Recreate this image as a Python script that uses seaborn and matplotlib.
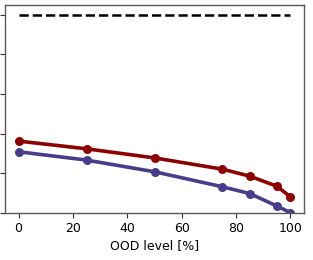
import matplotlib
matplotlib.use("Agg")
import matplotlib.pyplot as plt
import seaborn as sns
import pandas as pd

# data
ood_level = [0, 25, 50, 75, 85, 95, 100]
red_vals = [0.362, 0.323, 0.277, 0.220, 0.185, 0.134, 0.080]
blue_vals = [0.308, 0.266, 0.207, 0.131, 0.097, 0.034, 0.0]
ref_x = [0, 100]
ref_y = [1.0, 1.0]

df = pd.DataFrame({"ood": ood_level, "red": red_vals, "blue": blue_vals})

sns.set_style("ticks")
fig = plt.figure(figsize=(3.13, 2.60), dpi=100)
ax = fig.add_axes([5 / 313, 1 - 212.7 / 260, 299 / 313, 207.7 / 260])

ax.plot(ref_x, ref_y, color="black", linestyle="--", linewidth=1.8)
sns.lineplot(data=df, x="ood", y="red", color="#8b0000", linewidth=2.6,
             marker="o", markersize=6.5, markeredgewidth=0, ax=ax)
sns.lineplot(data=df, x="ood", y="blue", color="#483d8b", linewidth=2.6,
             marker="o", markersize=6.5, markeredgewidth=0, ax=ax)

ax.set_xlim(-5, 105)
ax.set_ylim(0, 1.05)
ax.set_xticks([0, 20, 40, 60, 80, 100])
ax.set_yticks([0, 0.2, 0.4, 0.6, 0.8, 1.0])
ax.set_yticklabels([])
ax.set_ylabel("")
ax.set_xlabel("OOD level [%]", fontsize=9, labelpad=3, color="black")
ax.tick_params(axis="x", labelsize=9, length=3.5, width=0.8, color="0.2",
               labelcolor="black", pad=3)
ax.tick_params(axis="y", length=3.5, width=0.8, color="0.2")
for s in ax.spines.values():
    s.set_visible(True)
    s.set_color("0.35")
    s.set_linewidth(1.0)

fig.savefig("out.png", dpi=100)
